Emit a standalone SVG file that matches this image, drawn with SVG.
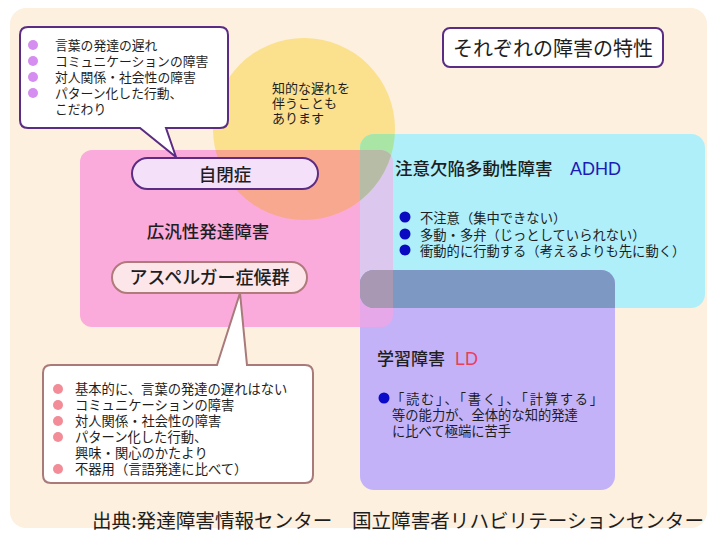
<svg xmlns="http://www.w3.org/2000/svg" width="711" height="537" viewBox="0 0 711 537">
<style>
.jp{font-family:"Noto Sans CJK JP","Noto Sans CJK SC",sans-serif;fill:#1e1e1e}
.s13{font-size:13px}
.title{font-size:17.5px;font-weight:500}
.lat{font-family:"Liberation Sans",Arial,sans-serif;font-size:18px}
.bubP{fill:#fff;stroke:#5b2c83;stroke-width:2}
.bubR{fill:#fff;stroke:#a87a7a;stroke-width:2}
</style>
<defs>
<clipPath id="cPink"><rect x="80" y="150" width="313" height="177" rx="12"/></clipPath>
<clipPath id="cCyan"><rect x="360" y="134" width="345" height="174" rx="14"/></clipPath>
<clipPath id="cPurple"><rect x="360" y="270" width="255" height="220" rx="14"/></clipPath>
</defs>
<rect width="711" height="537" fill="#fff"/>
<rect id="bg" x="10" y="8" width="697" height="520" rx="16" fill="#fdf0de"/>

<g id="areas">
<circle id="yellow" cx="304" cy="129" r="91" fill="#fbe08e"/>
<rect id="pink" x="80" y="150" width="313" height="177" rx="12" fill="#fbaadc"/>
<g clip-path="url(#cPink)"><circle cx="304" cy="129" r="91" fill="#f8a88e"/></g>
<rect id="cyan" x="360" y="134" width="345" height="174" rx="14" fill="#aeeffa"/>
<g clip-path="url(#cCyan)">
<circle cx="304" cy="129" r="91" fill="#a9e6a6"/>
<rect x="80" y="150" width="313" height="177" rx="12" fill="#dcc8ee"/>
<g clip-path="url(#cPink)"><circle cx="304" cy="129" r="91" fill="#b6bca6"/></g>
</g>
<rect id="purple" x="360" y="270" width="255" height="220" rx="14" fill="#c4b2f8"/>
<g clip-path="url(#cPurple)">
<rect x="80" y="150" width="313" height="177" rx="12" fill="#e6a8e8"/>
<rect x="360" y="134" width="345" height="174" rx="14" fill="#7e98c4"/>
<g clip-path="url(#cCyan)"><rect x="80" y="150" width="313" height="177" rx="12" fill="#a898b4"/></g>
</g>
</g>

<g id="connectors"></g>

<g id="title">
<rect x="443" y="28" width="220" height="39" rx="7" fill="#fff" stroke="#5b2c83" stroke-width="2"/>
<text class="jp" x="553" y="56" font-size="20" text-anchor="middle">それぞれの障害の特性</text>
</g>

<g id="autism-bubble">
<path class="bubP" d="M28,27 H220 Q228,27 228,35 V120 Q228,128 220,128 H166 L176,157 L140,128 H28 Q20,128 20,120 V35 Q20,27 28,27 Z"/>
<g fill="#d58ef0">
<circle cx="33" cy="45" r="5"/><circle cx="33" cy="61" r="5"/><circle cx="33" cy="77" r="5"/><circle cx="33" cy="93" r="5"/>
</g>
<g class="jp" font-size="12.8">
<text x="55" y="50">言葉の発達の遅れ</text>
<text x="55" y="66">コミュニケーションの障害</text>
<text x="55" y="82">対人関係・社会性の障害</text>
<text x="55" y="98">パターン化した行動、</text>
<text x="55" y="114">こだわり</text>
</g>
</g>

<g id="intellectual">
<g class="jp s13">
<text x="272" y="93">知的な遅れを</text>
<text x="272" y="108">伴うことも</text>
<text x="272" y="123">あります</text>
</g>
</g>

<g id="autism">
<rect x="132" y="158" width="186" height="31" rx="15.5" fill="#f5e0fa" stroke="#5b2c83" stroke-width="2"/>
<text class="jp title" x="225" y="181" text-anchor="middle">自閉症</text>
</g>

<g id="pdd">
<text class="jp title" x="208" y="238" text-anchor="middle">広汎性発達障害</text>
</g>

<g id="asperger-bubble">
<path class="bubR" d="M51,365 H217 L240,293 L247,365 H305 Q313,365 313,373 V475 Q313,483 305,483 H51 Q43,483 43,475 V373 Q43,365 51,365 Z"/>
<g fill="#f28c96">
<circle cx="58" cy="389" r="5"/><circle cx="58" cy="405" r="5"/><circle cx="58" cy="421" r="5"/><circle cx="58" cy="437" r="5"/><circle cx="58" cy="469" r="5"/>
</g>
<g class="jp" font-size="13.3">
<text x="75" y="394">基本的に、言葉の発達の遅れはない</text>
<text x="75" y="410">コミュニケーションの障害</text>
<text x="75" y="426">対人関係・社会性の障害</text>
<text x="75" y="442">パターン化した行動、</text>
<text x="75" y="458">興味・関心のかたより</text>
<text x="75" y="474">不器用（言語発達に比べて）</text>
</g>
</g>

<g id="asperger">
<rect x="112" y="262" width="195" height="31" rx="15.5" fill="#fce6ea" stroke="#b07a7a" stroke-width="2"/>
<text class="jp" x="209.5" y="284" font-size="18" font-weight="500" text-anchor="middle">アスペルガー症候群</text>
</g>

<g id="adhd">
<text class="jp title" x="395" y="175">注意欠陥多動性障害</text>
<text class="lat" x="570" y="175" fill="#1c1cb4">ADHD</text>
<g fill="#0a0ac0">
<circle cx="405" cy="217" r="5.5"/><circle cx="405" cy="234" r="5.5"/><circle cx="405" cy="250" r="5.5"/>
</g>
<g class="jp" font-size="13.3">
<text x="420" y="223">不注意（集中できない）</text>
<text x="420" y="240">多動・多弁（じっとしていられない）</text>
<text x="420" y="256">衝動的に行動する（考えるよりも先に動く）</text>
</g>
</g>

<g id="ld">
<text class="jp" x="377" y="365" font-size="17" font-weight="500">学習障害</text>
<text class="lat" x="455" y="365" fill="#e8405a">LD</text>
<circle cx="384" cy="398" r="5.5" fill="#0a0ac8"/>
<g class="jp" font-size="13.3">
<text x="391" y="404" textLength="212" lengthAdjust="spacing">「読む」、「書く」、「計算する」</text>
<text x="392" y="420">等の能力が、全体的な知的発達</text>
<text x="392" y="436">に比べて極端に苦手</text>
</g>
</g>

<g id="source">
<text class="jp" x="92" y="528" font-size="19.5" textLength="612" lengthAdjust="spacingAndGlyphs">出典:発達障害情報センター　国立障害者リハビリテーションセンター</text>
</g>
</svg>
